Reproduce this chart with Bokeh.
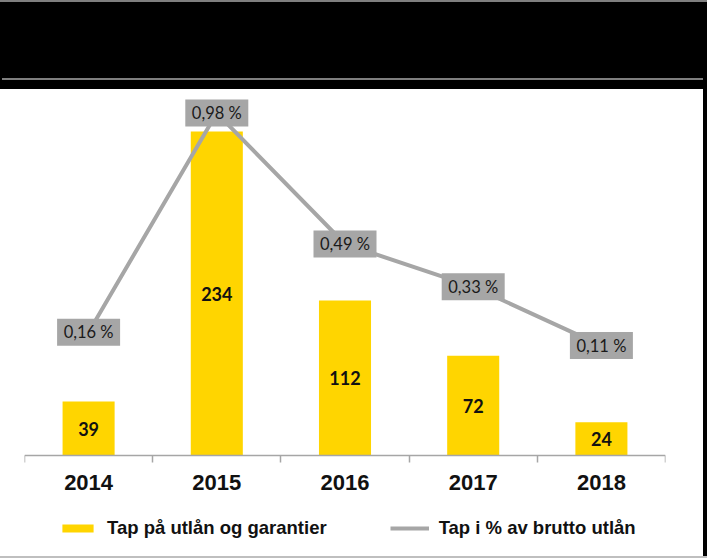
from bokeh.plotting import figure
from bokeh.models import Range1d, FixedTicker, Legend, LegendItem, Div, ColumnDataSource
from bokeh.layouts import column, row
from bokeh.core.properties import value
from bokeh.embed import file_html
from bokeh.resources import INLINE

# ---- data ----
years = ["2014", "2015", "2016", "2017", "2018"]
losses = [39, 234, 112, 72, 24]                 # Tap på utlån og garantier (MNOK)
loss_pct = [0.16, 0.98, 0.49, 0.33, 0.11]       # Tap i % av brutto utlån
pct_labels = ["0,16 %", "0,98 %", "0,49 %", "0,33 %", "0,11 %"]
series_names = ["Tap på utlån og garantier", "Tap i % av brutto utlån"]

BAR_COLOR = "#FFD500"
GREY = "#A6A6A6"

n = len(years)
centers = [i + 0.5 for i in range(n)]
bounds = [float(i) for i in range(n + 1)]

src = ColumnDataSource(dict(
    x=centers,
    loss=losses,
    loss_mid=[v / 2 for v in losses],
    loss_txt=[str(v) for v in losses],
    pct=loss_pct,
    pct_txt=pct_labels,
))

header = Div(
    text=('<div style="position:absolute;left:0;top:0;width:100%;height:2px;background:#7f7f7f"></div>'
          '<div style="position:absolute;left:2px;top:78px;width:701px;height:2px;background:#7f7f7f"></div>'),
    width=707, height=89,
    styles={"background-color": "black", "position": "relative", "margin": "0", "padding": "0"},
)

p = figure(width=703, height=467, x_range=Range1d(0, n), y_range=Range1d(-72.9, 260),
           output_backend="svg", toolbar_location=None, y_axis_location=None,
           min_border_left=24, min_border_right=38, min_border_top=6, min_border_bottom=0,
           border_fill_color="white", background_fill_color="white", outline_line_color=None)
p.extra_y_ranges = {"pct": Range1d(-0.679, 1.0456)}
p.grid.visible = False

ax = p.xaxis[0]
ax.fixed_location = 0
ax.ticker = FixedTicker(ticks=centers, minor_ticks=bounds)
ax.major_label_overrides = {c: y for c, y in zip(centers, years)}
ax.axis_line_color = GREY
ax.axis_line_width = 1.5
ax.major_tick_line_color = None
ax.major_tick_out = 0
ax.major_tick_in = 0
ax.minor_tick_line_color = GREY
ax.minor_tick_line_width = 1.5
ax.minor_tick_out = 7
ax.minor_tick_in = 0
ax.major_label_standoff = 12
ax.major_label_text_font = "Liberation Sans"
ax.major_label_text_font_style = "bold"
ax.major_label_text_font_size = "22px"
ax.major_label_text_color = "#111111"

bars = p.vbar(x="x", top="loss", width=0.406, source=src, fill_color=BAR_COLOR, line_color=None)
p.text(x="x", y="loss_mid", text="loss_txt", source=src, text_align="center", text_baseline="middle",
       text_font=value("Lato"), text_font_style="bold", text_font_size="18px", text_color="#111111")

line = p.line(x="x", y="pct", source=src, y_range_name="pct", line_color=GREY, line_width=4)
p.rect(x="x", y="pct", width=63, height=27, width_units="screen", height_units="screen",
       source=src, y_range_name="pct", fill_color=GREY, line_color=None)
p.text(x="x", y="pct", text="pct_txt", source=src, y_range_name="pct", text_align="center",
       text_baseline="middle", text_font=value("Lato"), text_font_size="16.5px", text_color="#1a1a1a")

legend = Legend(items=[LegendItem(label=series_names[0], renderers=[bars]),
                       LegendItem(label=series_names[1], renderers=[line])],
                location=(34, 17), orientation="horizontal", glyph_width=39, glyph_height=10,
                label_standoff=10, spacing=63, padding=0, margin=0,
                border_line_color=None, background_fill_alpha=0,
                label_text_font="Liberation Sans", label_text_font_style="bold",
                label_text_font_size="18.5px", label_text_color="#111111")
p.add_layout(legend)

strip = Div(text="", width=4, height=467, styles={"background-color": "black", "margin": "0"})
bottom = Div(text="", width=707, height=2, styles={"background-color": "#bfbfbf", "margin": "0"})

layout = column(header, row(p, strip, spacing=0), bottom, spacing=0)
open("out.html", "w").write(file_html(layout, INLINE))
